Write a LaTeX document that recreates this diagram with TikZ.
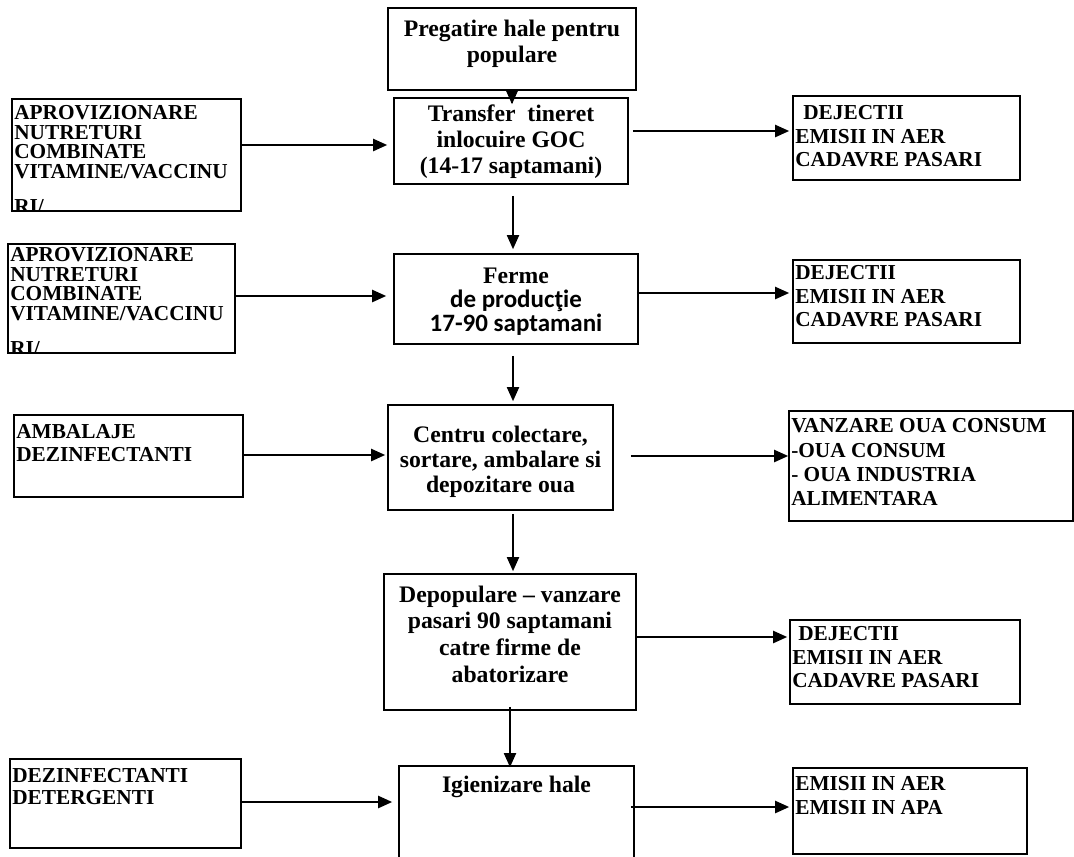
\documentclass[tikz,border=0pt]{standalone}
\usepackage{fontspec}
\setmainfont{Liberation Serif}
\newfontfamily\calibri{Carlito}
\usetikzlibrary{arrows.meta}

\newcommand{\infont}{\fontsize{21.3}{19.5}\selectfont\bfseries}
\newcommand{\outfont}{\fontsize{21.3}{23.5}\selectfont\bfseries}
\newcommand{\stepfont}{\fontsize{23.7}{26}\selectfont\bfseries}

\tikzset{
  flowbox/.style={draw, line width=1.6pt, inner sep=0pt},
  boxtext/.style={minimum width=0pt, minimum height=0pt, inner sep=0pt, draw=none},
  sidetext/.style n args={3}{path picture={
      \node[boxtext, anchor=north west, align=left, font=#2]
        at ([xshift=1.5pt, yshift=-#1pt]path picture bounding box.north west) {#3};}},
  midtext/.style n args={3}{path picture={
      \node[boxtext, anchor=north, align=center, font=#2]
        at ([yshift=-#1pt]path picture bounding box.north) {#3};}},
  flow/.style={-{Triangle[length=14pt, width=12pt]}, line width=2.2pt},
  down/.style={-{Triangle[length=14pt, width=12pt]}, line width=1.8pt}
}

\begin{document}
\begin{tikzpicture}[x=1pt, y=-1pt]
        \clip (0,0) rectangle (1074,857);
        % Main steps
        \node[flowbox, minimum width=248pt, minimum height=82pt,
              midtext={11}{\stepfont}{Pregatire hale pentru\\populare}] (top) at (512,49) {};
        \node[flowbox, minimum width=234pt, minimum height=86pt,
              midtext={6}{\stepfont}{Transfer\ \ tineret\\inlocuire GOC\\(14-17 saptamani)}] (tr) at (511,141) {};
        \node[flowbox, minimum width=244pt, minimum height=90pt,
              midtext={13}{\fontsize{23.7}{24}\selectfont\bfseries}{Ferme\\{\calibri\fontsize{25}{24}\selectfont de producţie}\\{\calibri\fontsize{25}{24}\selectfont 17-90 saptamani}}] (fe) at (516,299) {};
        \node[flowbox, minimum width=225pt, minimum height=105pt,
              midtext={20}{\fontsize{23.7}{25}\selectfont\bfseries}{Centru colectare,\\sortare, ambalare si\\depozitare oua}] (ce) at (500.5,457.5) {};
        \node[flowbox, minimum width=252pt, minimum height=136pt,
              midtext={11}{\fontsize{23.7}{26.7}\selectfont\bfseries}{Depopulare -- vanzare\\pasari 90 saptamani\\catre firme de\\abatorizare}] (de) at (510,642) {};
        \node[flowbox, minimum width=235pt, minimum height=120pt,
              midtext={9}{\stepfont}{Igienizare hale}] (ig) at (516.5,826) {};
        % Inputs
        \node[flowbox, minimum width=229pt, minimum height=112pt,
              sidetext={6}{\infont}{APROVIZIONARE\\NUTRETURI\\COMBINATE\\VITAMINE/VACCINU\\[16pt]RI/}] (in1) at (126.5,155) {};
        \node[flowbox, minimum width=227pt, minimum height=109pt,
              sidetext={3}{\infont}{APROVIZIONARE\\NUTRETURI\\COMBINATE\\VITAMINE/VACCINU\\[16pt]RI/}] (in2) at (121.5,298.5) {};
        \node[flowbox, minimum width=229pt, minimum height=82pt,
              sidetext={9}{\fontsize{21.3}{22.5}\selectfont\bfseries}{AMBALAJE\\DEZINFECTANTI}] (in3) at (128.5,456) {};
        \node[flowbox, minimum width=231pt, minimum height=89pt,
              sidetext={9}{\fontsize{21.3}{22}\selectfont\bfseries}{DEZINFECTANTI\\DETERGENTI}] (in5) at (125.5,803.5) {};
        % Outputs
        \node[flowbox, minimum width=227pt, minimum height=84pt,
              sidetext={9}{\outfont}{\hspace*{8pt}DEJECTII\\EMISII IN AER\\CADAVRE PASARI}] (out1) at (906.5,138) {};
        \node[flowbox, minimum width=227pt, minimum height=83pt,
              sidetext={5}{\outfont}{DEJECTII\\EMISII IN AER\\CADAVRE PASARI}] (out2) at (906.5,301.5) {};
        \node[flowbox, minimum width=284pt, minimum height=110pt,
              sidetext={7}{\fontsize{21.3}{24.3}\selectfont\bfseries}{VANZARE OUA CONSUM\\-OUA CONSUM\\- OUA INDUSTRIA\\ALIMENTARA}] (out3) at (931,466) {};
        \node[flowbox, minimum width=230pt, minimum height=84pt,
              sidetext={6}{\outfont}{\hspace*{6pt}DEJECTII\\EMISII IN AER\\CADAVRE PASARI}] (out4) at (905,662) {};
        \node[flowbox, minimum width=234pt, minimum height=86pt,
              sidetext={8}{\outfont}{EMISII IN AER\\EMISII IN APA}] (out5) at (910,811) {};
        % Flow down the middle
        \draw[down, shorten <=-12pt, shorten >=-7pt] (top.south) -- (top.south |- tr.north);
        \draw[down, shorten <=11pt, shorten >=4pt] ([xshift=2pt]tr.south) -- ([xshift=2pt]tr.south |- fe.north);
        \draw[down, shorten <=11pt, shorten >=3pt] ([xshift=-3pt]fe.south) -- ([xshift=-3pt]fe.south |- ce.north);
        \draw[down, shorten <=3pt, shorten >=2pt] ([xshift=12.5pt]ce.south) -- ([xshift=12.5pt]ce.south |- de.north);
        \draw[down, shorten <=-4pt, shorten >=-2pt] (de.south) -- (de.south |- ig.north);
        % Inputs into the steps
        \draw[flow, shorten >=6pt] ([yshift=10pt]in1.east) -- ([yshift=10pt]in1.east -| tr.west);
        \draw[flow, shorten >=7pt] ([yshift=2.5pt]in2.east) -- ([yshift=2.5pt]in2.east -| fe.west);
        \draw[flow, shorten >=2pt] ([yshift=1pt]in3.east) -- ([yshift=1pt]in3.east -| ce.west);
        \draw[flow, shorten >=6pt] ([yshift=1.5pt]in5.east) -- ([yshift=1.5pt]in5.east -| ig.west);
        % Outputs of the steps
        \draw[flow, shorten <=4pt, shorten >=3pt] ([yshift=10pt]tr.east) -- ([yshift=10pt]tr.east -| out1.west);
        \draw[flow, shorten <=-2pt, shorten >=3pt] ([yshift=6pt]fe.east) -- ([yshift=6pt]fe.east -| out2.west);
        \draw[flow, shorten <=17pt] ([yshift=1.5pt]ce.east) -- ([yshift=1.5pt]ce.east -| out3.west);
        \draw[flow, shorten <=-1pt, shorten >=2pt] ([yshift=5pt]de.east) -- ([yshift=5pt]de.east -| out4.west);
        \draw[flow, shorten <=-4pt, shorten >=3pt] ([yshift=19pt]ig.east) -- ([yshift=19pt]ig.east -| out5.west);
\end{tikzpicture}
\end{document}
